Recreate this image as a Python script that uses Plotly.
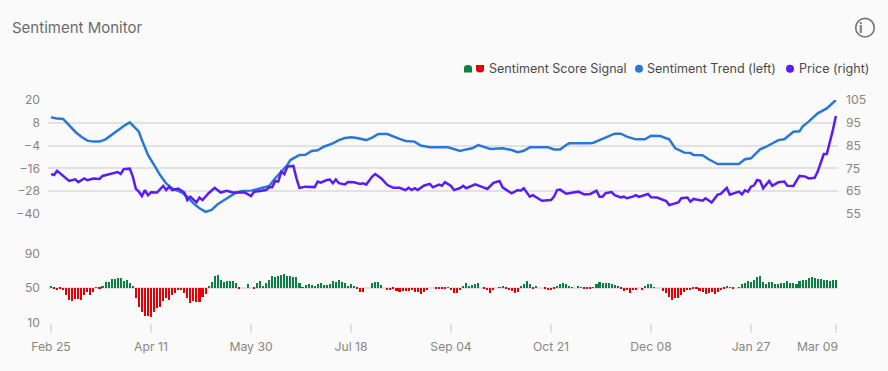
import plotly.graph_objects as go

tick_day = [0, 33, 66, 99, 132, 165, 198, 231]
tick_labels = ["Feb 25", "Apr 11", "May 30", "Jul 18", "Sep 04", "Oct 21", "Dec 08", "Jan 27"]
last_tick_day = 259
last_tick_label = "Mar 09"

signal_score = [
 52,48.1,47.7,48.1,47.7,42,36,35,37,37,36,42,45,42,45,50.8,48.8,52,56,57,60,60.4,61,61,58,59,55,51.5,38,28,22,17,17,16,22,27,28,35,38,36,42,44,47,47.7,44,38,32,35,33,34,39,43,51,57,64,65,59,56,58,58,58,55,48.8,50,50,54,50,49.2,55,58,52.3,55,59,63,62,63,65,66,64,64,62,62,55,
 50.3,53,54.6,53,51.5,53.8,55.4,53,53,54.6,57.7,56.9,58.8,56.9,55.4,52.3,53.8,51.9,48.1,45.4,45.4,50,50,55.4,56.9,56.9,52.7,50,
 47.3,47.7,48.1,46.2,45.4,46.2,46.2,46.2,46.9,45.4,44.6,43.1,44.6,46.9,50,50,48.5,48.8,48.8,49.6,50.4,46.9,43.8,43.8,46.9,51.9,55.8,52.3,53,54.6,55,50,48.1,47.3,43.8,47.7,50,50.8,51.9,48.5,46.9,46.2,44.2,45.4,51.5,54.6,57.7,54.6,49.2,52.3,50,50,48.5,47.7,46.9,48.1,51.9,54.6,55.4,53.8,51.2,50.8,50,51.5,50.8,48.5,48.8,49.2,
 50.4,54.6,56.9,55,55.8,55.8,53.8,53.5,51.9,49.2,46.2,47.7,43.8,46.9,47.7,50,47.7,51.5,54.2,54.2,50.8,50,50,46.2,43.8,39.2,36.2,38.5,38.5,41.5,45.4,47.7,47.7,48.1,49.6,46.2,44.6,43.1,43.8,44.6,42.3,44.6,46.9,48.5,51.9,50.8,49.2,50,50.8,54.6,55.4,57.3,56.2,59.2,62.3,63.1,56.9,54.6,56.9,56.9,53.8,53.8,55,55.4,58.1,55.8,55.4,53.8,57.3,59.2,58.5,61.5,62.3,61.5,59.6,60,59.2,59.2,57.7,58.5,58.5,
]

trend_day = [0,2,4,6,8,10,12,14,16,18,20,22,24,26,29,30,32,34,36,38,40,43,45,47,49,51,53,55,57,59,61,63,66,68,70,72,74,76,78,79,81,82,84,86,88,90,93,95,97,99,101,104,106,108,111,113,115,117,120,122,125,131,133,135,137,139,141,143,145,149,152,154,156,158,160,164,166,168,170,171,178,179,181,184,186,188,190,193,196,198,201,204,206,209,211,212,215,217,220,227,229,231,234,236,240,242,245,247,248,250,253,256,259]
trend_value = [10.9,10.2,10,6.8,3.3,0.7,-1.4,-1.9,-1.9,-0.7,1.6,4.2,6.3,8.2,3.3,-1.1,-8.9,-14.2,-19.5,-23.9,-26.5,-28.6,-30.9,-34.4,-37,-38.9,-37.9,-34.9,-33,-30.9,-28.8,-27.9,-27.7,-27,-26,-25.3,-21.2,-17.7,-14.2,-11.6,-9.8,-8.9,-8.8,-6.8,-6.5,-4.6,-2.8,-1.1,0,0.4,0,-1.1,0.2,2.1,2.1,0.7,-0.5,-1.6,-1.9,-4,-4.9,-4.9,-6,-6.8,-6,-5.4,-3.7,-4.9,-5.8,-5.4,-6.3,-7.5,-6.7,-4.9,-4.9,-4.9,-6,-6,-3.7,-2.8,-2.8,-2.5,-1.1,1,2.3,2.3,0.7,-0.7,-0.7,1.2,1,-0.7,-5.4,-7.7,-7.9,-8.9,-9.1,-11.2,-13.7,-13.7,-11.2,-10.7,-6,-4.6,-1.1,-0.7,3.3,3.5,6,8.6,13,15.6,20]

price_day = [0,1,2,4,6,8,9,11,12,14,16,17,19,22,23,24,26,27,28,29,30,31,32,33,35,37,38,39,40,42,44,45,46,48,49,50,52,54,56,58,60,63,64,66,67,69,71,72,73,74,75,76,77,78,80,81,82,84,87,88,89,91,92,93,94,95,97,98,100,102,103,104,106,107,109,111,113,115,117,118,119,120,121,123,125,126,128,129,130,132,133,135,136,137,140,142,144,146,148,149,152,154,155,156,158,159,162,165,166,167,168,170,174,176,178,180,181,182,183,185,186,188,189,190,192,193,194,197,198,200,203,204,207,208,210,211,212,215,216,218,220,221,223,224,227,228,229,230,231,232,233,234,235,237,238,240,242,243,245,247,249,250,252,253,254,255,256,257,258,259]
price_value = [72.5,72.1,73.9,71.7,69.5,70.2,69,70.6,69.8,70.6,70.4,71.7,72.4,73.4,72.5,74.7,74.9,71.4,66,64.8,62.9,65.5,63.2,64.5,64.4,67.3,65.5,67,65.5,66.1,64.4,61.1,62.6,60.1,62.2,61.1,64.1,66.5,64.4,65.2,64.4,64.4,64.4,62.9,64.8,65.1,65.5,66.7,66.7,69.5,69.2,73.6,72.5,75.8,76.1,70.6,66.4,67,66.8,69.2,68.7,69.9,70.1,68.5,70.1,68.5,68,69,68.9,68.2,68.5,67.9,71.4,72.5,70.6,67.7,66.5,66.5,65.5,66.5,65.5,66.3,65.5,67.4,68.2,66.7,67.9,67.4,69,67.3,65.5,66.4,67.4,66.3,68,67,66,68.7,69.5,66.7,64.1,65.5,65.2,66.3,62.6,63.3,60.8,61.1,62.6,65.5,65.7,63.9,64.8,63.6,63.8,65.2,62.6,62.6,64.1,64.6,63.3,62.3,62.6,61.9,62.6,63.3,62.5,63.8,62.3,62.2,60.7,58.9,60.1,61.9,62.2,60.4,61.6,60.8,61.9,60,63.5,63.8,66.4,63.5,64.8,63.6,65.4,64.8,67,67.6,69.9,69.6,66.3,69.5,67.4,68.9,69.2,67.4,67.3,71.7,71.4,70.6,70.9,73.6,78,81.3,81.3,86,91.8,98]

W, H = 888, 371
GRID = "#e2e2e2"
LABEL = "#8a8580"
BG = "#fafafa"
FONT = "Inter"

def px(x): return x / W
def py(y): return 1 - y / H

days = list(range(len(signal_score)))
fig = go.Figure()
fig.add_bar(x=days, y=[s - 50 for s in signal_score], base=50, yaxis="y3", width=0.68,
            marker=dict(color=["#0b8043" if s >= 50 else "#e00008" for s in signal_score], line_width=0),
            name="Sentiment Score Signal", showlegend=False)
fig.add_scatter(x=trend_day, y=trend_value, yaxis="y", mode="lines",
                line=dict(color="#2a78d6", width=2.5), name="Sentiment Trend (left)", showlegend=False)
fig.add_scatter(x=price_day, y=price_value, yaxis="y2", mode="lines",
                line=dict(color="#5a1cf5", width=2.5), name="Price (right)", showlegend=False)

tickfont = dict(family=FONT, size=12.2, color=LABEL)
legfont = dict(family=FONT, size=12.55, color="#4a4a4a")
annotations = [
    dict(text="Sentiment Monitor", x=px(10), y=py(27.5), xanchor="left", font=dict(family=FONT, size=15, color="#6b6b6b")),
    dict(text="Sentiment Score Signal", x=px(486.5), y=py(68.5), xanchor="left", font=legfont),
    dict(text="Sentiment Trend (left)", x=px(645), y=py(68.5), xanchor="left", font=legfont),
    dict(text="Price (right)", x=px(796.5), y=py(68.5), xanchor="left", font=legfont),
    dict(text="<b>i</b>", x=px(865), y=py(28), font=dict(family=FONT, size=13, color="#777777")),
    dict(text=last_tick_label, x=px(840), y=py(346.5), xanchor="right", font=tickfont),
]
annotations = [dict(a, xref="paper", yref="paper", showarrow=False, yanchor=a.get("yanchor", "middle")) for a in annotations]

def circle(cx, cy, r, **kw):
    return dict(type="circle", xref="paper", yref="paper", x0=px(cx - r), x1=px(cx + r), y0=py(cy + r), y1=py(cy - r), **kw)

def dome(x0, x1, top, bottom, color, up=True):
    xm = (x0 + x1) / 2
    if up:
        d = f"M {px(x0)} {py(bottom)} L {px(x0)} {py(top + 3)} Q {px(x0)} {py(top)} {px(xm)} {py(top)} Q {px(x1)} {py(top)} {px(x1)} {py(top + 3)} L {px(x1)} {py(bottom)} Z"
    else:
        d = f"M {px(x0)} {py(top)} L {px(x0)} {py(bottom - 3)} Q {px(x0)} {py(bottom)} {px(xm)} {py(bottom)} Q {px(x1)} {py(bottom)} {px(x1)} {py(bottom - 3)} L {px(x1)} {py(top)} Z"
    return dict(type="path", xref="paper", yref="paper", path=d, fillcolor=color, line_width=0)

shapes = [
    dome(464, 472, 65, 72.5, "#0b8043"),
    dome(476, 484, 65, 72.5, "#e00008", up=False),
    circle(639, 68.7, 4, fillcolor="#2a78d6", line_width=0),
    circle(790, 68.7, 4, fillcolor="#5a1cf5", line_width=0),
    circle(865, 27.7, 9.3, line=dict(color="#777777", width=1.6)),
]

fig.update_layout(
    width=W, height=H, margin=dict(l=0, r=0, t=0, b=0, autoexpand=False), autosize=False,
    paper_bgcolor=BG, plot_bgcolor=BG, bargap=0, barmode="overlay", hovermode=False,
    annotations=annotations, shapes=shapes, showlegend=False,
    xaxis=dict(domain=[px(48), px(838)], range=[-0.99, 259.7], anchor="y3", showgrid=False, zeroline=False,
               tickmode="array", tickvals=tick_day + [last_tick_day], ticktext=tick_labels + [""],
               ticks="outside", ticklen=9, tickcolor=GRID, tickwidth=1.5, tickfont=tickfont, showline=False,
               ticklabelstandoff=4),
    yaxis=dict(domain=[py(214), py(100)], range=[-40, 20], tickvals=[-40, -28, -16, -4, 8, 20], side="left",
               showgrid=True, gridcolor=GRID, gridwidth=1.5, zeroline=False, tickfont=tickfont,
               ticks="", ticklabelstandoff=7),
    yaxis2=dict(domain=[py(214), py(100)], range=[55, 105], tickvals=[55, 65, 75, 85, 95, 105], side="right",
                overlaying="y", anchor="x", showgrid=False, zeroline=False, tickfont=tickfont,
                ticks="", ticklabelstandoff=7),
    yaxis3=dict(domain=[py(322.7), py(253.3)], range=[10, 90], tickvals=[10, 50, 90], anchor="x",
                showgrid=True, gridcolor=GRID, gridwidth=1.5, zeroline=False, tickfont=tickfont,
                ticks="", ticklabelstandoff=7),
)
fig.write_html("out.html", post_script="document.body.style.margin='0';document.body.style.background='#fafafa';",
               config={"displayModeBar": False})
